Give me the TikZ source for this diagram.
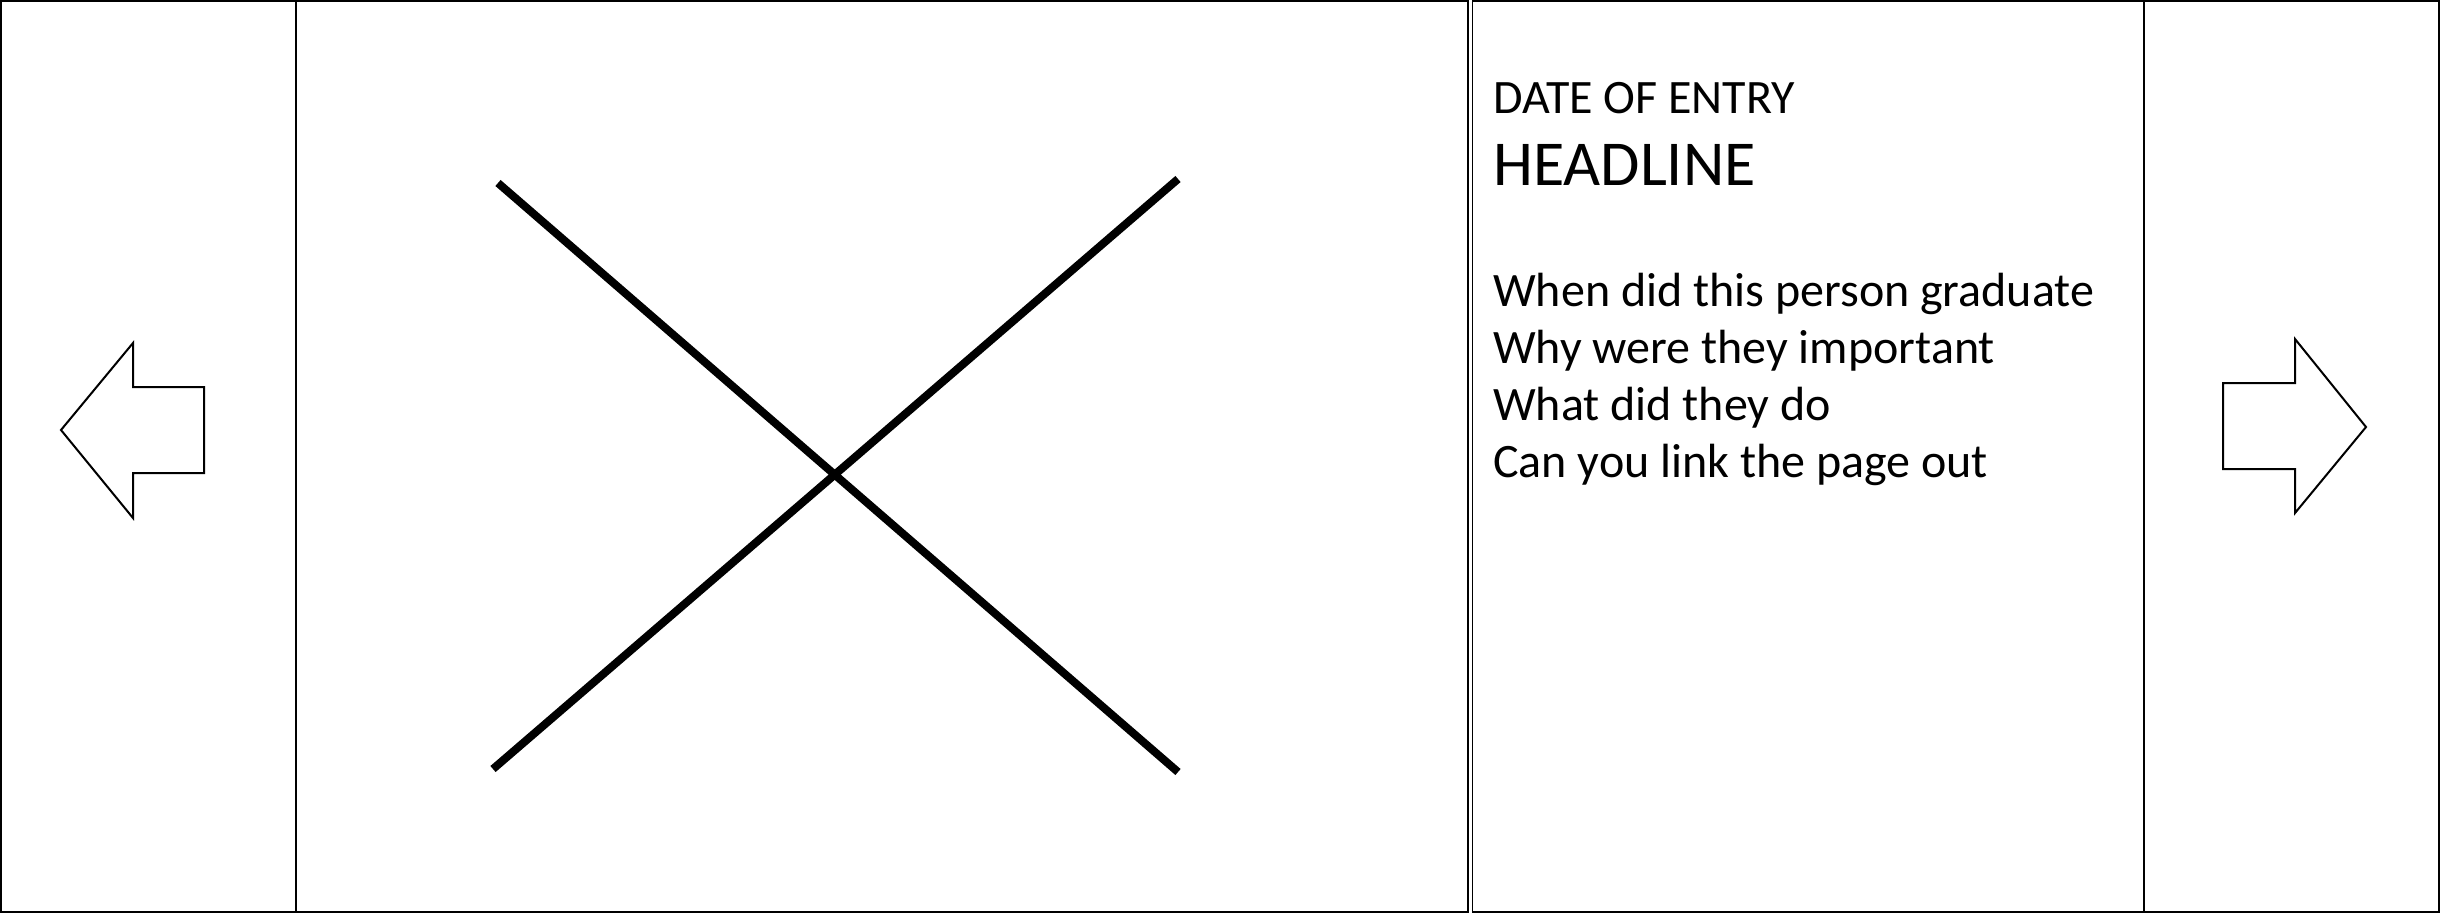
\documentclass[tikz,border=0pt]{standalone}
\usepackage{fontspec}
\setmainfont{Carlito}
\tikzset{
  panel/.style={draw=black, line width=2.4pt},
  cross/.style={draw=black, line width=8pt},
  navarrow/.style={draw=black, line width=2pt, line join=miter},
  txt/.style={anchor=base west, inner sep=0pt, align=left}
}
\begin{document}
\begin{tikzpicture}[x=1pt, y=-1pt]
    \useasboundingbox (0,0) rectangle (2440,913);
    \draw[panel] (1.2,1.2) rectangle (1468,911.8);
    \draw[panel] (296,1.2) -- (296,911.8);
    \draw[panel, line width=1.6pt] (1472.5,0.8) rectangle (2439.2,912.2);
    \draw[panel, line width=1.6pt] (2144,0.8) -- (2144,912.2);
    \draw[cross] (498,183) -- (1178,772);
    \draw[cross] (1178,179) -- (493,769);
    \draw[navarrow] (61,430) -- (133,343) -- (133,387) -- (204,387) -- (204,473) -- (133,473) -- (133,518) -- cycle;
    \draw[navarrow] (2366,427) -- (2295,339) -- (2295,383) -- (2223,383) -- (2223,469) -- (2295,469) -- (2295,513) -- cycle;
    \node[txt, font=\fontsize{48}{57}\selectfont] (date) at (1493,113) {DATE OF ENTRY};
    \node[txt, font=\fontsize{64}{74}\selectfont] (headline) at (1493,185) {HEADLINE};
    \node[txt, font=\fontsize{48}{57}\selectfont] (questions) at (1493,477) {When did this person graduate\\Why were they important\\What did they do\\Can you link the page out};
\end{tikzpicture}
\end{document}
